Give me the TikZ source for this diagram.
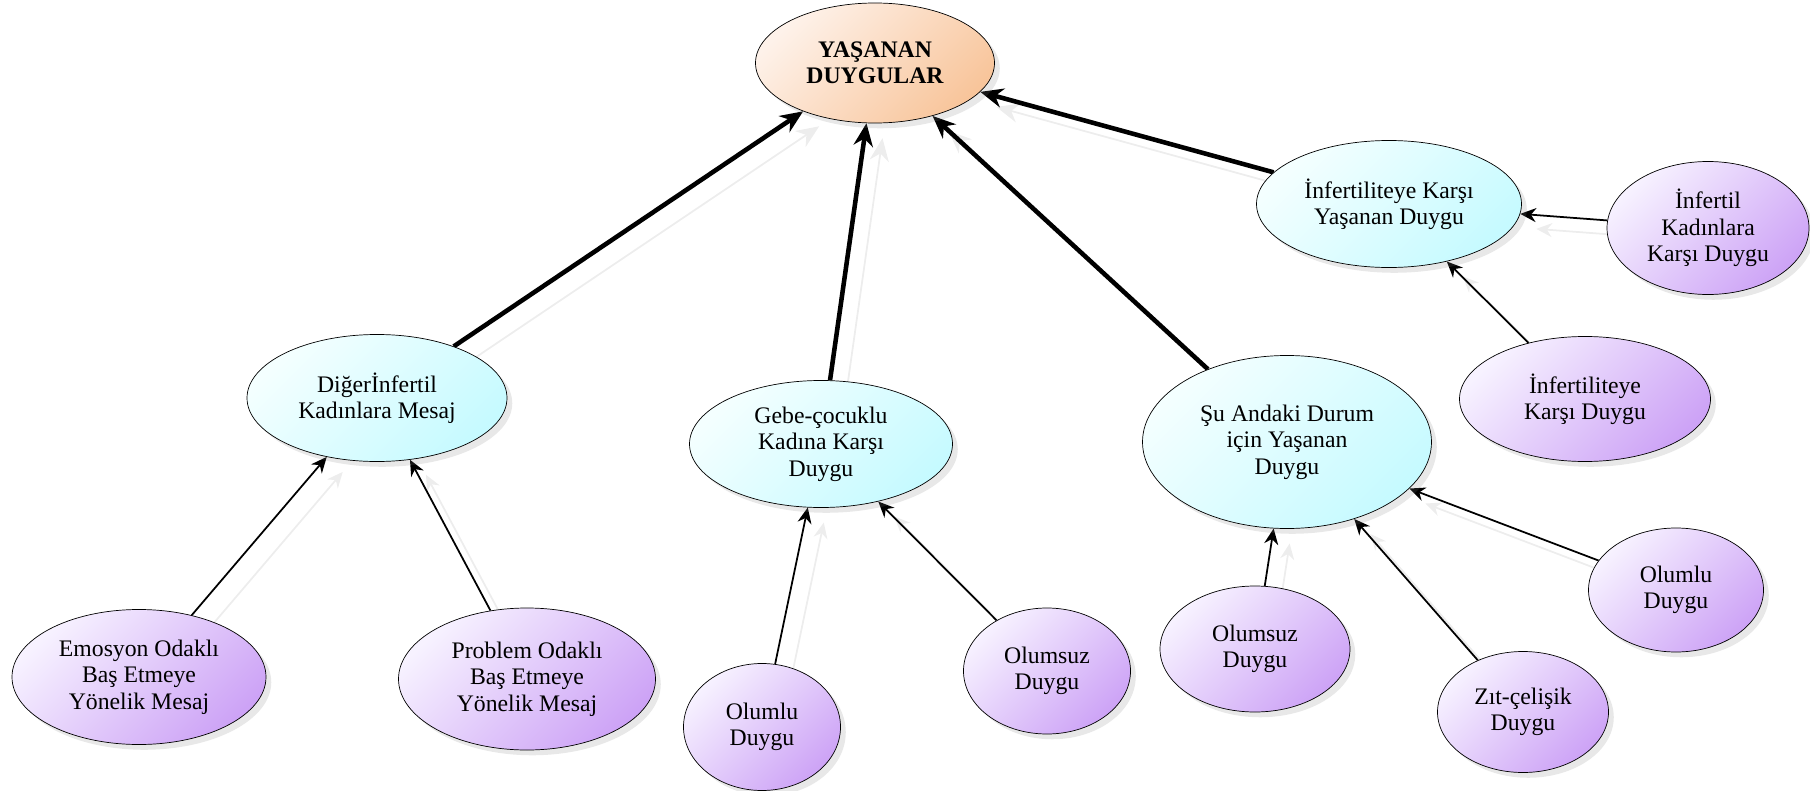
\documentclass[tikz,border=0pt]{standalone}
\usepackage{fontspec}
\setmainfont{Liberation Serif}
\usepackage{tikz}
\usetikzlibrary{arrows.meta, shapes.geometric, shadows, backgrounds}

\definecolor{peach}{HTML}{F8C59B}
\definecolor{peachlt}{HTML}{FEF2EA}
\definecolor{aqua}{HTML}{C6FAFF}
\definecolor{aqualt}{HTML}{F4FFFF}
\definecolor{lilac}{HTML}{CDA3F6}
\definecolor{lilaclt}{HTML}{F7F2FF}

\begin{document}
\begin{tikzpicture}[x=0.02cm, y=-0.02cm,
      font=\fontsize{13.5}{15}\selectfont,
      bubble/.style={ellipse, draw, thin, align=center, inner sep=0pt,
        drop shadow={shadow xshift=3pt, shadow yshift=-3pt, opacity=.18}},
      sz/.style 2 args={minimum width=#1*0.02cm, minimum height=#2*0.02cm},
      core/.style={bubble, top color=peachlt, bottom color=peach, shading angle=45,
        font=\fontsize{13.5}{15}\selectfont\bfseries},
      theme/.style={bubble, top color=aqualt, bottom color=aqua, shading angle=45},
      sub/.style={bubble, top color=lilaclt, bottom color=lilac, shading angle=45},
      mainarr/.style={-{Stealth[length=13pt, width=11pt]}, line width=2.6pt,
        preaction={draw=black!7, line width=1pt, transform canvas={shift={(16,15)}}}},
      subarr/.style={-{Stealth[length=9pt, width=8pt]}, line width=1pt,
        preaction={draw=black!7, line width=1pt, transform canvas={shift={(16,15)}}}}]
    \useasboundingbox (0,0) rectangle (1810,791);
    % centre and first level
    \node[core, sz={239}{120}] (kok) at (875,63) {YAŞANAN\\DUYGULAR};
    \node[theme, sz={260}{127}] (diger) at (377,398) {Diğerİnfertil\\Kadınlara Mesaj};
    \node[theme, sz={263}{127}] (gebe) at (821,444) {Gebe-çocuklu\\Kadına Karşı\\Duygu};
    \node[theme, sz={289}{173}] (suan) at (1287,442) {Şu Andaki Durum\\için Yaşanan\\Duygu};
    \node[theme, sz={265}{127}] (infyas) at (1389,204) {İnfertiliteye Karşı\\Yaşanan Duygu};
    % second level
    \node[sub, sz={202}{133}] (infkad) at (1708,228) {İnfertil\\Kadınlara\\Karşı Duygu};
    \node[sub, sz={251}{125}] (infduy) at (1585,399) {İnfertiliteye\\Karşı Duygu};
    \node[sub, sz={254}{135}] (emo) at (139,677) {Emosyon Odaklı\\Baş Etmeye\\Yönelik Mesaj};
    \node[sub, sz={257}{142}] (prob) at (527,679) {Problem Odaklı\\Baş Etmeye\\Yönelik Mesaj};
    \node[sub, sz={157}{127}] (golumlu) at (762,727) {Olumlu\\Duygu};
    \node[sub, sz={167}{126}] (golumsuz) at (1047,671) {Olumsuz\\Duygu};
    \node[sub, sz={190}{126}] (solumsuz) at (1255,649) {Olumsuz\\Duygu};
    \node[sub, sz={171}{121}] (szit) at (1523,712) {Zıt-çelişik\\Duygu};
    \node[sub, sz={175}{124}] (solumlu) at (1676,590) {Olumlu\\Duygu};
    \begin{pgfonlayer}{background}
      \draw[mainarr] (diger) -- (kok);
      \draw[mainarr] (gebe) -- (kok);
      \draw[mainarr] (suan) -- (kok);
      \draw[mainarr] (infyas) -- (kok);
      \draw[subarr] (emo) -- (diger);
      \draw[subarr] (prob) -- (diger);
      \draw[subarr] (golumlu) -- (gebe);
      \draw[subarr] (golumsuz) -- (gebe);
      \draw[subarr] (solumsuz) -- (suan);
      \draw[subarr] (szit) -- (suan);
      \draw[subarr] (solumlu) -- (suan);
      \draw[subarr] (infkad) -- (infyas);
      \draw[subarr] (infduy) -- (infyas);
    \end{pgfonlayer}
  \end{tikzpicture}
\end{document}
